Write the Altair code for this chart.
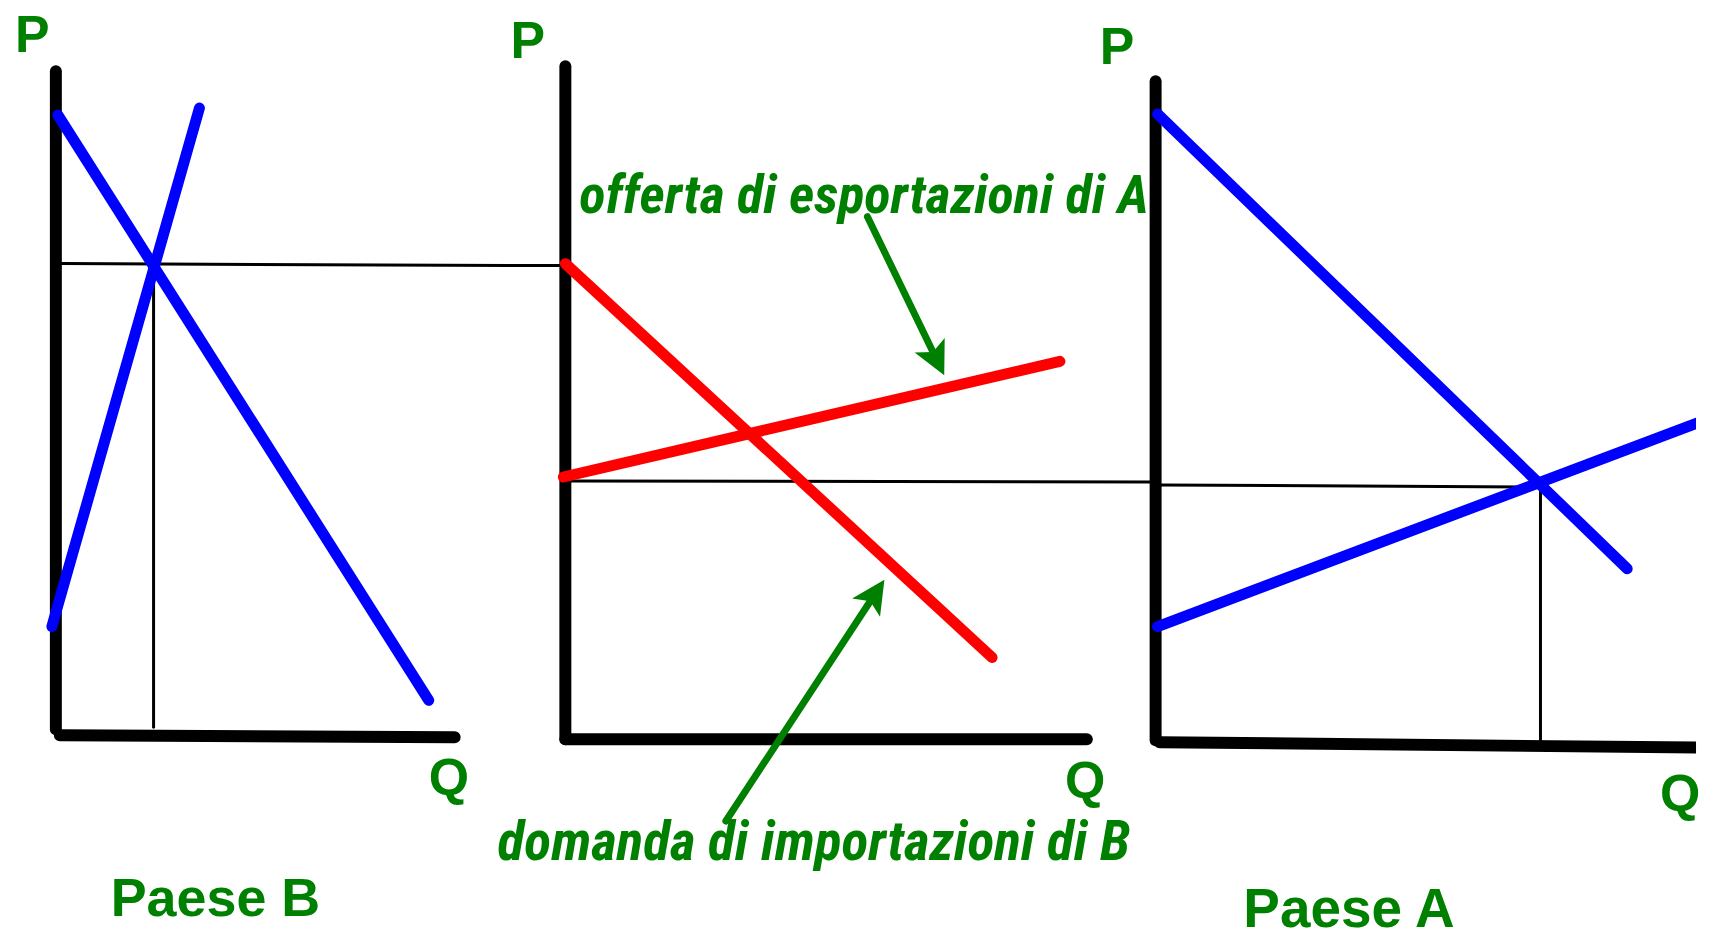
import math
import altair as alt
import pandas as pd

# Diagram coordinates (reference pixels): x to the right, y downwards
# ---- thick black axes ----
axis_x1 = [56, 60, 567, 567, 1159, 1163]
axis_y1 = [70, 736, 65, 740, 80, 743]
axis_x2 = [56, 456, 567, 1090, 1159, 1760]
axis_y2 = [730, 738, 740, 740, 741, 749]

# ---- thin black guide lines ----
guide_x1 = [62, 154, 567, 1164, 1545]
guide_y1 = [263, 265, 481, 485, 487]
guide_x2 = [563, 154, 1157, 1545, 1545]
guide_y2 = [265, 728, 482, 487, 741]

# ---- blue curves (Paese B and Paese A) ----
blue_x1 = [58, 52, 1161, 1161]
blue_y1 = [114, 627, 113, 627]
blue_x2 = [430, 200, 1632, 1760]
blue_y2 = [701, 107, 569, 401]

# ---- red curves (middle panel) ----
red_x1 = [567, 565]
red_y1 = [263, 477]
red_x2 = [995, 1063]
red_y2 = [658, 361]

# ---- green arrows: tail -> tip ----
arrow_tail_x = [870, 728]
arrow_tail_y = [216, 822]
arrow_tip_x = [947, 887]
arrow_tip_y = [375, 580]
head_len = 33.5

# ---- labels ----
lab_text = ["P", "P", "P", "Q", "Q", "Q", "Paese B", "Paese A"]
lab_x = [15, 512, 1103, 430, 1068, 1665, 111, 1247]
lab_y = [51, 57, 63, 796, 799, 812, 917, 928]
lab_size = [52, 52, 52, 52, 52, 52, 54, 55]

note_text = ["offerta di esportazioni di A", "domanda di importazioni di B"]
note_x = [581, 499]
note_y = [212, 861]
note_size = [54.6, 55.8]

GREEN = "#008000"
X0, X1 = 8, 1701
Y0, Y1 = 8, 929

xs = alt.Scale(domain=[X0, X1], nice=False, zero=False)
ys = alt.Scale(domain=[Y0, Y1], nice=False, zero=False, reverse=True)


def seg_df(x1, y1, x2, y2):
    return pd.DataFrame({"x": x1, "y": y1, "x2": x2, "y2": y2})


def rules(df, color, width):
    return alt.Chart(df).mark_rule(
        color=color, strokeWidth=width, strokeCap="round", clip=True
    ).encode(
        x=alt.X("x:Q", scale=xs, axis=None),
        y=alt.Y("y:Q", scale=ys, axis=None),
        x2="x2:Q",
        y2="y2:Q",
    )


# arrows: shafts + heads derived from tail/tip data
shaft_rows, head_rows = [], []
for tx, ty, px, py in zip(arrow_tail_x, arrow_tail_y, arrow_tip_x, arrow_tip_y):
    dx, dy = px - tx, py - ty
    n = math.hypot(dx, dy)
    ux, uy = dx / n, dy / n
    shaft_rows.append({"x": tx, "y": ty, "x2": px - ux * 22, "y2": py - uy * 22})
    ang = math.degrees(math.atan2(dx, -dy)) % 360
    head_rows.append({
        "x": px - ux * head_len / 2,
        "y": py - uy * head_len / 2,
        "angle": ang,
        "size": head_len ** 2,
    })

shafts = rules(pd.DataFrame(shaft_rows), GREEN, 7)
heads = alt.Chart(pd.DataFrame(head_rows)).mark_point(
    shape="M0,-1L1,1L0,0.55L-1,1Z", filled=True, color=GREEN, opacity=1, strokeWidth=0
).encode(
    x=alt.X("x:Q", scale=xs, axis=None),
    y=alt.Y("y:Q", scale=ys, axis=None),
    angle=alt.Angle("angle:Q", scale=None),
    size=alt.Size("size:Q", scale=None, legend=None),
)

labels = alt.Chart(pd.DataFrame({"t": lab_text, "x": lab_x, "y": lab_y, "s": lab_size})).mark_text(
    font="Liberation Sans", fontWeight="bold", color=GREEN,
    align="left", baseline="alphabetic"
).encode(
    x=alt.X("x:Q", scale=xs, axis=None),
    y=alt.Y("y:Q", scale=ys, axis=None),
    text="t:N",
    size=alt.Size("s:Q", scale=None, legend=None),
)

notes = alt.Chart(pd.DataFrame({"t": note_text, "x": note_x, "y": note_y, "s": note_size})).mark_text(
    font="Roboto Condensed, Liberation Sans Narrow, DejaVu Sans Condensed, Roboto",
    fontWeight="bold", fontStyle="italic",
    color=GREEN, align="left", baseline="alphabetic"
).encode(
    x=alt.X("x:Q", scale=xs, axis=None),
    y=alt.Y("y:Q", scale=ys, axis=None),
    text="t:N",
    size=alt.Size("s:Q", scale=None, legend=None),
)

chart = alt.layer(
    rules(seg_df(guide_x1, guide_y1, guide_x2, guide_y2), "black", 3),
    rules(seg_df(axis_x1, axis_y1, axis_x2, axis_y2), "black", 12),
    rules(seg_df(blue_x1, blue_y1, blue_x2, blue_y2), "#0000FF", 11),
    rules(seg_df(red_x1, red_y1, red_x2, red_y2), "#FF0000", 11),
    shafts,
    heads,
    labels,
    notes,
).properties(
    width=X1 - X0, height=Y1 - Y0, padding=0, background="white"
).configure_view(stroke=None)

chart.save("out.html", embed_options={"renderer": "svg", "actions": False})
